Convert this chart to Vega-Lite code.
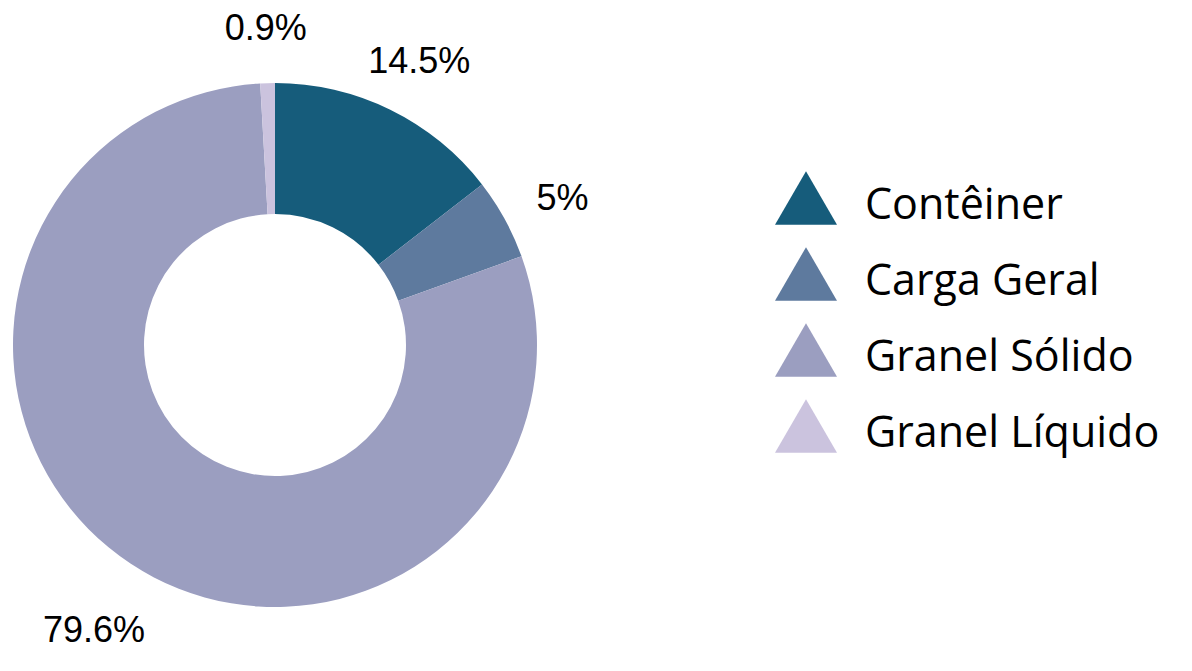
{
  "$schema": "https://vega.github.io/schema/vega-lite/v6.json",
  "width": 550,
  "height": 550,
  "autosize": {"type": "none"},
  "padding": {"left": 0, "top": 70, "right": 642, "bottom": 51},
  "background": "white",
  "config": {"view": {"stroke": null}},
  "data": {
    "values": [
      {"tipo": "Contêiner", "pct": 14.5, "ordem": 1, "rotulo": "14.5%"},
      {"tipo": "Carga Geral", "pct": 5, "ordem": 2, "rotulo": "5%"},
      {"tipo": "Granel Sólido", "pct": 79.6, "ordem": 3, "rotulo": "79.6%"},
      {"tipo": "Granel Líquido", "pct": 0.9, "ordem": 4, "rotulo": "0.9%"}
    ]
  },
  "encoding": {
    "theta": {"field": "pct", "type": "quantitative", "stack": true},
    "order": {"field": "ordem", "type": "quantitative"}
  },
  "layer": [
    {
      "mark": {"type": "arc", "outerRadius": 262, "innerRadius": 131},
      "encoding": {
        "color": {
          "field": "tipo",
          "type": "nominal",
          "scale": {
            "domain": ["Contêiner", "Carga Geral", "Granel Sólido", "Granel Líquido"],
            "range": ["#165c7b", "#5e7a9e", "#9b9ec0", "#cbc3de"]
          },
          "legend": {
            "orient": "none",
            "legendX": 775,
            "legendY": 97,
            "title": null,
            "padding": 0,
            "symbolType": "triangle-up",
            "symbolSize": 3844,
            "symbolOpacity": 1,
            "symbolStrokeWidth": 0,
            "labelOffset": 28,
            "rowPadding": 15,
            "labelFont": "Open Sans",
            "labelFontSize": 43,
            "labelFontWeight": 500,
            "labelColor": "#000000",
            "labelLimit": 0,
            "encode": {
              "labels": {"update": {"dy": {"value": 8}}}
            }
          }
        }
      }
    },
    {
      "mark": {"type": "text", "radius": 328, "dy": 12, "font": "Liberation Sans", "fontSize": 36, "color": "#000000"},
      "encoding": {"text": {"field": "rotulo", "type": "nominal"}}
    }
  ]
}
